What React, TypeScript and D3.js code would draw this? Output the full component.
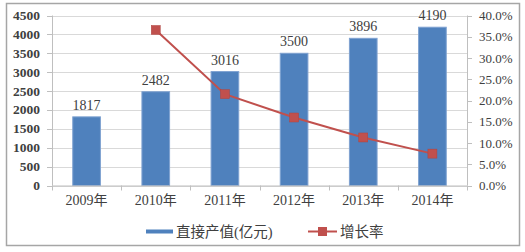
import React from "react";
import * as d3 from "d3";

const categories = ["2009年", "2010年", "2011年", "2012年", "2013年", "2014年"];
const outputValues = [1817, 2482, 3016, 3500, 3896, 4190];
const growthRates: (number | null)[] = [null, 36.6, 21.5, 16.0, 11.3, 7.5];
const leftTicks = [0, 500, 1000, 1500, 2000, 2500, 3000, 3500, 4000, 4500];
const rightTicks = [0, 5, 10, 15, 20, 25, 30, 35, 40];
const barLabel = "直接产值(亿元)";
const lineLabel = "增长率";

export default function App() {
  const W = 525, H = 252;
  const left = 52, right = 467, top = 15.5, bottom = 185.5;
  const x = d3.scaleBand<string>().domain(categories).range([left, right]).paddingInner(0.6).paddingOuter(0.3);
  const xc = d3.scaleBand<string>().domain(categories).range([left, right]);
  const yL = d3.scaleLinear().domain([0, 4500]).range([bottom, top]);
  const yR = d3.scaleLinear().domain([0, 40]).range([bottom, top]);
  const pts = categories
    .map((c, i) => ({ c, v: growthRates[i] }))
    .filter((d) => d.v !== null) as { c: string; v: number }[];
  const line = d3
    .line<{ c: string; v: number }>()
    .x((d) => (xc(d.c) as number) + xc.bandwidth() / 2)
    .y((d) => yR(d.v));
  const serif: React.CSSProperties = { fontFamily: "Liberation Serif, Times New Roman, serif" };
  const cjk: React.CSSProperties = { fontFamily: "Liberation Serif, Noto Sans CJK SC, serif" };
  return (
    <svg width={W} height={H} style={{ position: "absolute", left: 0, top: 0 }}>
      <rect x={0} y={0} width={W} height={H} fill="#fff" />
      <rect x={6.5} y={3.5} width={513} height={242} fill="#fff" stroke="#a6a6a6" strokeWidth={1.5} />
      {leftTicks.map((t) => (
        <line key={"g" + t} x1={left} x2={right} y1={Math.round(yL(t)) + 0.5} y2={Math.round(yL(t)) + 0.5} stroke="#d9d9d9" strokeWidth={1} />
      ))}
      <line x1={left + 0.5} x2={left + 0.5} y1={top} y2={bottom} stroke="#bfbfbf" />
      {leftTicks.map((t) => (
        <g key={"l" + t}>
          <line x1={left - 5} x2={left} y1={Math.round(yL(t)) + 0.5} y2={Math.round(yL(t)) + 0.5} stroke="#bfbfbf" />
          <text x={40} y={yL(t) + 4.5} textAnchor="end" style={serif} fontWeight="bold" fontSize={13.5} fill="#404040">
            {t}
          </text>
        </g>
      ))}
      <line x1={right + 0.5} x2={right + 0.5} y1={top} y2={bottom} stroke="#bfbfbf" />
      {rightTicks.map((t) => (
        <g key={"r" + t}>
          <line x1={right} x2={right + 5} y1={Math.round(yR(t)) + 0.5} y2={Math.round(yR(t)) + 0.5} stroke="#bfbfbf" />
          <text x={479} y={yR(t) + 4.5} textAnchor="start" style={serif} fontSize={13} fill="#404040">
            {t.toFixed(1) + "%"}
          </text>
        </g>
      ))}
      {categories.map((c, i) => (
        <g key={"b" + c}>
          <rect x={x(c)} y={yL(outputValues[i])} width={x.bandwidth()} height={bottom - yL(outputValues[i])} fill="#4f81bd" stroke="#7fa2d1" strokeWidth={1} />
          <text x={(x(c) as number) + x.bandwidth() / 2} y={yL(outputValues[i]) - 7} textAnchor="middle" style={serif} fontSize={14} fill="#404040">
            {outputValues[i]}
          </text>
        </g>
      ))}
      <line x1={left} x2={right} y1={bottom + 0.5} y2={bottom + 0.5} stroke="#bfbfbf" />
      {categories.map((c) => (
        <g key={"x" + c}>
          <line x1={Math.round(xc(c) as number) + 0.5} x2={Math.round(xc(c) as number) + 0.5} y1={bottom} y2={bottom + 5} stroke="#bfbfbf" />
          <text x={(xc(c) as number) + xc.bandwidth() / 2} y={205} textAnchor="middle" style={cjk} fontSize={14} fill="#404040">
            {c}
          </text>
        </g>
      ))}
      <line x1={right + 0.5} x2={right + 0.5} y1={bottom} y2={bottom + 5} stroke="#bfbfbf" />
      <path d={line(pts) as string} fill="none" stroke="#c0504d" strokeWidth={2} />
      {pts.map((d) => (
        <rect key={"m" + d.c} x={(xc(d.c) as number) + xc.bandwidth() / 2 - 4.5} y={yR(d.v) - 4.5} width={9} height={9} fill="#c0504d" stroke="#b04440" strokeWidth={0.5} />
      ))}
      <rect x={146} y={229.5} width={27} height={4} fill="#4f81bd" />
      <text x={176} y={236.5} style={cjk} fontSize={14.5} fill="#404040">{barLabel}</text>
      <line x1={308} x2={337} y1={231.5} y2={231.5} stroke="#c0504d" strokeWidth={2} />
      <rect x={318} y={227} width={9} height={9} fill="#c0504d" />
      <text x={340} y={236.5} style={cjk} fontSize={14.5} fill="#404040">{lineLabel}</text>
    </svg>
  );
}
